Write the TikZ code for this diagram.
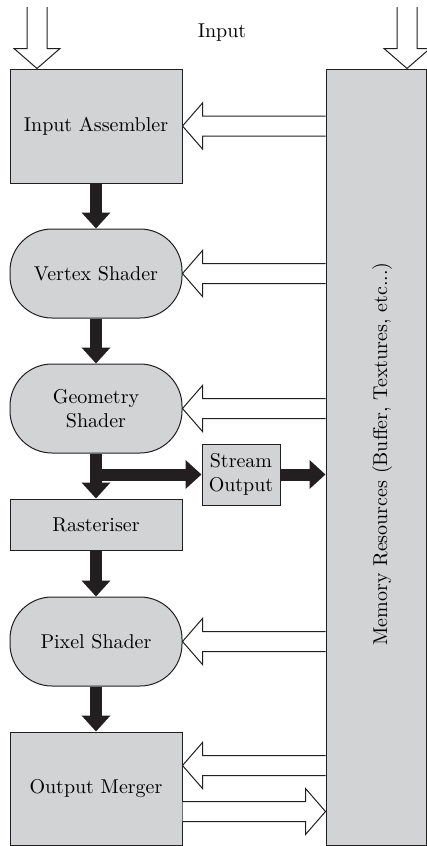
\documentclass[tikz,border=0pt]{standalone}
\usetikzlibrary{arrows.meta,calc}

\definecolor{boxgray}{HTML}{D1D3D4}
\definecolor{ink}{HTML}{231F20}

\newcommand{\fatarrow}[2]{%
  \path ($(#2)!10pt!(#1)$) coordinate (fa-b);
  \draw[hollow] ($(#1)!5pt!90:(#2)$) -- ($(fa-b)!5pt!-90:(#1)$) -- ($(fa-b)!11.5pt!-90:(#1)$)
    -- (#2) -- ($(fa-b)!11.5pt!90:(#1)$) -- ($(fa-b)!5pt!90:(#1)$) -- ($(#1)!5pt!-90:(#2)$);
}

\begin{document}
\begin{tikzpicture}[x=0.5pt,y=-0.5pt,
  stage/.style={draw=ink,fill=boxgray,line width=0.5pt,minimum width=86pt,align=center,inner sep=2pt},
  shader/.style={stage,rounded corners=21pt,minimum height=44.5pt},
  flow/.style={draw=ink,line width=6pt,-{Triangle[length=8pt,width=14pt]}},
  hollow/.style={draw=ink,fill=white,line width=0.5pt,line join=miter}]
  \useasboundingbox (0,0) rectangle (427,846);

  \node[stage,minimum height=57pt] (ia) at (96,126) {Input Assembler};
  \node[shader] (vs) at (96,273.5) {Vertex Shader};
  \node[shader] (gs) at (96,408.5) {Geometry\\Shader};
  \node[stage,minimum height=25.5pt] (rast) at (96,524.5) {Rasteriser};
  \node[shader] (ps) at (96,641.5) {Pixel Shader};
  \node[stage,minimum height=56.5pt] (om) at (96,788.5) {Output Merger};
  \node[stage,minimum width=39pt,minimum height=30.5pt] (so) at (241,474.5) {Stream\\Output};
  \node[stage,minimum width=50pt,minimum height=388pt] (mem) at (376,457) {};
  \node[rotate=90] (memtext) at (382,454) {Memory Resources (Buffer, Textures, etc...)};
  \node (input) at (222,33) {Input};

  \draw[flow] (ia) -- (vs);
  \draw[flow] (vs) -- (gs);
  \draw[flow] (gs) -- (rast);
  \draw[flow] (rast) -- (ps);
  \draw[flow] (ps) -- (om);
  \draw[flow] (gs.south |- so.west) -- (so.west);
  \draw[flow] (so.east) -- (so.east -| mem.west);

  \coordinate (inL) at (37,7);
  \coordinate (inR) at (407,7);
  \coordinate (omin) at ($(om.east)+(0,-23)$);
  \coordinate (omout) at ($(om.east)+(0,23)$);

  \fatarrow{inL}{inL |- ia.north}
  \fatarrow{inR}{inR |- mem.north}
  \fatarrow{mem.west |- ia.east}{ia.east}
  \fatarrow{mem.west |- vs.east}{vs.east}
  \fatarrow{mem.west |- gs.east}{gs.east}
  \fatarrow{mem.west |- ps.east}{ps.east}
  \fatarrow{mem.west |- omin}{omin}
  \fatarrow{omout}{mem.west |- omout}
\end{tikzpicture}
\end{document}
